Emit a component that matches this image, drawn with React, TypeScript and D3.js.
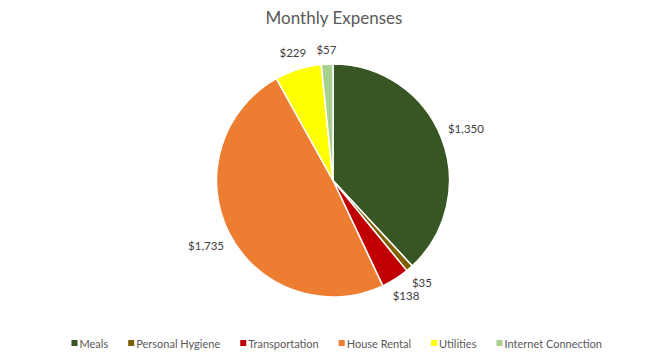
import React, { useEffect, useRef } from "react";
import * as d3 from "d3";

const categories = ["Meals", "Personal Hygiene", "Transportation", "House Rental", "Utilities", "Internet Connection"];
const values = [1350, 35, 138, 1735, 229, 57];
const colors = ["#375623", "#7F6000", "#C00000", "#ED7D31", "#FFFF00", "#A9D08E"];
const title = "Monthly Expenses";

const W = 656;
const H = 357;
const FONT = "Lato, 'Open Sans', sans-serif";

export default function App() {
  const ref = useRef<SVGSVGElement | null>(null);

  useEffect(() => {
    const svg = d3.select(ref.current);
    svg.selectAll("*").remove();

    svg.append("rect").attr("width", W).attr("height", H).attr("fill", "#fff");

    svg.append("text")
      .attr("x", 334).attr("y", 24)
      .attr("text-anchor", "middle")
      .attr("font-family", FONT).attr("font-size", 17)
      .attr("fill", "#595959")
      .text(title);

    const cx = 333, cy = 180.5, r = 116.5;
    const data = categories.map((c, i) => ({ c, v: values[i], col: colors[i] }));
    const pie = d3.pie<any>().sort(null).value((d: any) => d.v);
    const arcs = pie(data);
    const arc = d3.arc<any>().innerRadius(0).outerRadius(r);

    const g = svg.append("g").attr("transform", `translate(${cx},${cy})`);
    g.selectAll("path").data(arcs).enter().append("path")
      .attr("d", arc as any)
      .attr("fill", (d: any) => d.data.col)
      .attr("stroke", "#fff").attr("stroke-width", 1.5)
      .attr("stroke-linejoin", "round");

    const fmt = d3.format("$,");
    const lg = svg.append("g").attr("transform", `translate(${cx},${cy})`);
    arcs.forEach((a: any) => {
      const mid = (a.startAngle + a.endAngle) / 2;
      const s = Math.sin(mid), c = Math.cos(mid);
      const t = lg.append("text")
        .attr("font-family", FONT).attr("font-size", 11.5)
        .attr("fill", "#404040")
        .attr("text-anchor", "middle")
        .attr("dominant-baseline", "central")
        .text(fmt(a.data.v));
      const w = (t.node() as SVGTextElement).getComputedTextLength();
      const h = 14;
      const ext = Math.abs(s) * (w / 2) + Math.abs(c) * (h / 2);
      const dist = r + 7 + ext;
      t.attr("x", dist * s).attr("y", -dist * c);
    });

    // legend
    const leg = svg.append("g");
    let x = 71.5;
    const ly = 343;
    data.forEach((d) => {
      leg.append("rect").attr("x", x).attr("y", ly - 3).attr("width", 6).attr("height", 6).attr("fill", d.col);
      const t = leg.append("text")
        .attr("x", x + 8).attr("y", ly)
        .attr("dominant-baseline", "central")
        .attr("font-family", FONT).attr("font-size", 11)
        .attr("fill", "#595959")
        .text(d.c);
      const w = (t.node() as SVGTextElement).getComputedTextLength();
      x += 8 + w + 20;
    });
  }, []);

  return (
    <svg ref={ref} width={W} height={H} style={{ position: "absolute", left: 0, top: 0 }} />
  );
}
